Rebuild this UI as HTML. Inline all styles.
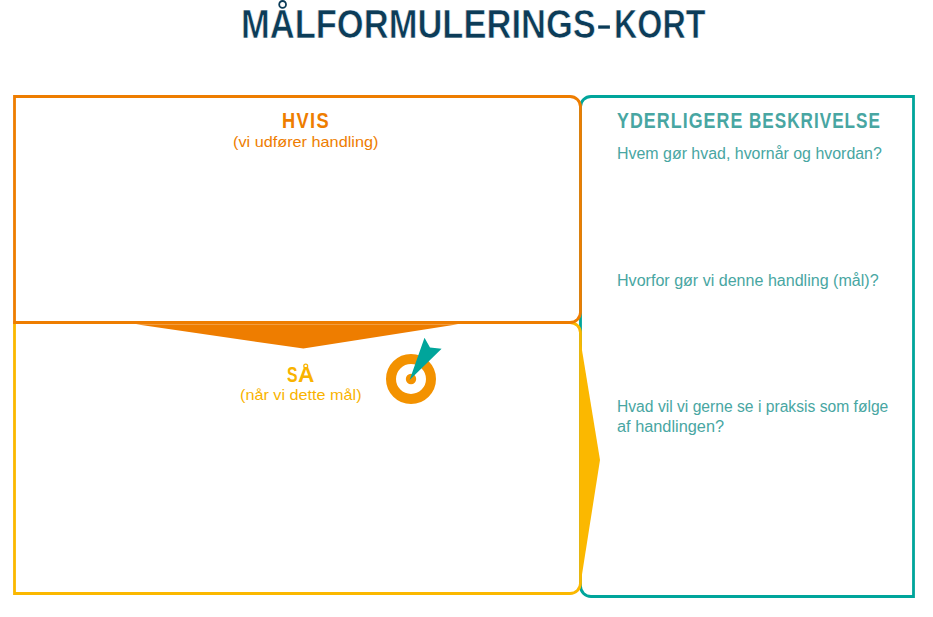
<!DOCTYPE html>
<html>
<head>
<meta charset="utf-8">
<style>
html,body{margin:0;padding:0;background:#fff;}
body{width:933px;height:617px;position:relative;overflow:hidden;font-family:"Liberation Sans", sans-serif;}
.t{position:absolute;white-space:nowrap;line-height:1;margin:0;}
svg{position:absolute;left:0;top:0;}
#title{left:241px;top:3.5px;font-size:41px;font-weight:bold;color:#0c3c58;-webkit-text-stroke:0.6px #fff;paint-order:normal;transform:scaleX(0.842);transform-origin:0 0;}
#title2{left:614px;top:3.5px;font-size:41px;font-weight:bold;color:#0c3c58;-webkit-text-stroke:0.6px #fff;paint-order:normal;transform:scaleX(0.787);transform-origin:0 0;}
#hvis{left:282px;top:110px;font-size:22px;font-weight:bold;color:#ee7d00;letter-spacing:1.6px;transform:scaleX(0.83);transform-origin:0 0;}
#hvis2{left:233px;top:134px;font-size:15px;color:#ee7d00;transform:scaleX(1.083);transform-origin:0 0;}
#saa{left:287px;top:364px;font-size:22px;font-weight:bold;color:#f9b300;transform:scaleX(0.72);transform-origin:0 0;}
#saaA{left:298px;top:364px;font-size:22px;font-weight:bold;color:#f9b300;transform:scaleX(1.03);transform-origin:0 0;}
#saa2{left:240px;top:387px;font-size:15px;color:#f9b300;transform:scaleX(1.08);transform-origin:0 0;}
#yd{left:617px;top:110px;font-size:22px;font-weight:bold;color:#48a6a2;letter-spacing:1.3px;transform:scaleX(0.81);transform-origin:0 0;}
#yd2{left:748.5px;top:110px;font-size:22px;font-weight:bold;color:#48a6a2;letter-spacing:1.3px;transform:scaleX(0.778);transform-origin:0 0;}
.q{left:617px;font-size:16px;color:#48a6a2;transform-origin:0 0;}
#q1{top:146px;transform:scaleX(0.996);}
#q2{top:273px;transform:scaleX(1.004);}
#q3{top:399px;transform:scaleX(0.978);}
#q4{top:419px;transform:scaleX(1.02);}
</style>
</head>
<body>
<svg width="933" height="617" viewBox="0 0 933 617">
  <!-- teal box -->
  <path d="M591,96.5 H913.5 V596.5 H591 A10.5,10.5 0 0 1 580.5,586 V107 A10.5,10.5 0 0 1 591,96.5 Z" fill="none" stroke="#00a59b" stroke-width="2.8"/>
  <!-- yellow box -->
  <path d="M14.5,322.5 H570 A10.5,10.5 0 0 1 580.5,333 V583 A10.5,10.5 0 0 1 570,593.5 H14.5 Z" fill="none" stroke="#fbb800" stroke-width="2.8"/>
  <!-- yellow triangle -->
  <polygon points="580.5,341 600,460 580.5,584" fill="#fbb800"/>
  <!-- orange box -->
  <path d="M14.5,96.5 H570 A10.5,10.5 0 0 1 580.5,107 V312 A10.5,10.5 0 0 1 570,322.5 H14.5 Z" fill="none" stroke="#ee7d00" stroke-width="2.8"/>
  <!-- orange triangle -->
  <polygon points="136,324.3 458,324.3 303.4,348.6" fill="#ee7d00"/>
  <circle cx="282.6" cy="4.4" r="3.4" fill="none" stroke="#0c3c58" stroke-width="1.8"/>
  <circle cx="305.7" cy="366" r="1.9" fill="none" stroke="#f9b300" stroke-width="1.3"/>
  <rect x="598.2" y="25.4" width="11.7" height="3.3" fill="#0c3c58"/>
  <!-- target icon -->
  <circle cx="411" cy="379" r="20" fill="none" stroke="#f39200" stroke-width="10"/>
  <circle cx="411" cy="379" r="5.2" fill="#f39200"/>
  <polygon points="409.6,380 424.5,337.8 430,347.5 441.6,348.8" fill="#00a59b"/>
</svg>
<div class="t" id="title">MALFORMULERINGS</div>
<div class="t" id="title2">KORT</div>
<div class="t" id="hvis">HVIS</div>
<div class="t" id="hvis2">(vi udfører handling)</div>
<div class="t" id="saa">S</div>
<div class="t" id="saaA">A</div>
<div class="t" id="saa2">(når vi dette mål)</div>
<div class="t" id="yd">YDERLIGERE</div>
<div class="t" id="yd2">BESKRIVELSE</div>
<div class="t q" id="q1">Hvem gør hvad, hvornår og hvordan?</div>
<div class="t q" id="q2">Hvorfor gør vi denne handling (mål)?</div>
<div class="t q" id="q3">Hvad vil vi gerne se i praksis som følge</div>
<div class="t q" id="q4">af handlingen?</div>
</body>
</html>
